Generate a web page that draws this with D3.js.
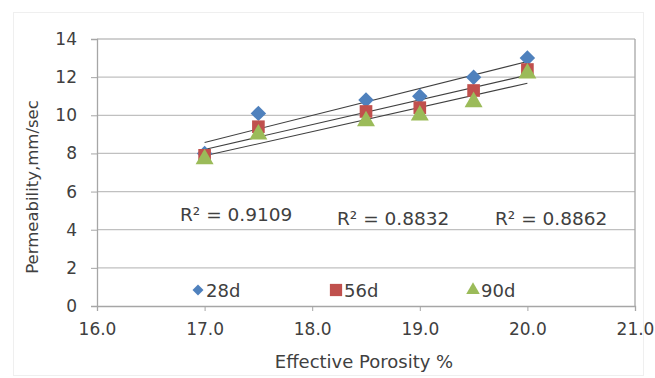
<!DOCTYPE html>
<html>
<head>
<meta charset="utf-8">
<script src="https://cdn.jsdelivr.net/npm/d3@7"></script>
<style>
  body { margin: 0; background: #fff; }
  text { font-family: "DejaVu Sans", Arial, sans-serif; fill: #404040; }
</style>
</head>
<body>
<div id="chart"></div>
<script>
// Data
const porosity = [17.0, 17.5, 18.5, 19.0, 19.5, 20.0];
const perm28 = [8.0, 10.1, 10.8, 11.0, 12.0, 13.0];
const perm56 = [7.9, 9.4, 10.2, 10.4, 11.3, 12.4];
const perm90 = [7.7, 9.0, 9.7, 10.0, 10.7, 12.2];
const seriesNames = ['28d', '56d', '90d'];
const r2Labels = ['R² = 0.9109', 'R² = 0.8832', 'R² = 0.8862'];
const xTicks = [16, 17, 18, 19, 20, 21];
const yTicks = [0, 2, 4, 6, 8, 10, 12, 14];

const W = 655, H = 378;
const margin = { top: 39, right: 20, bottom: 72, left: 97 };
const width = W - margin.left - margin.right;
const height = H - margin.top - margin.bottom;

const svg = d3.select('#chart').append('svg')
  .attr('width', W).attr('height', H);

// faint chart-area frame
svg.append('rect')
  .attr('x', 13.5).attr('y', 12.5).attr('width', 630).attr('height', 363)
  .attr('fill', '#fff').attr('stroke', '#efefef');

const g = svg.append('g').attr('transform', `translate(${margin.left},${margin.top})`);

const x = d3.scaleLinear().domain([16, 21]).range([0, width]);
const y = d3.scaleLinear().domain([0, 14]).range([height, 0]);

// gridlines
g.selectAll('.grid').data(yTicks.slice(1)).enter().append('line')
  .attr('x1', 0).attr('x2', width)
  .attr('y1', d => y(d)).attr('y2', d => y(d))
  .attr('stroke', '#c0c0c0').attr('stroke-width', 1.3);

// right border of the plot area
g.append('line')
  .attr('x1', width).attr('x2', width).attr('y1', 0).attr('y2', height)
  .attr('stroke', '#a6a6a6').attr('stroke-width', 1.3);

// axes
const xAxis = g.append('g').attr('transform', `translate(0,${height})`)
  .call(d3.axisBottom(x).tickValues(xTicks).tickFormat(d3.format('.1f')).tickSize(5).tickPadding(12));
const yAxis = g.append('g')
  .call(d3.axisLeft(y).tickValues(yTicks).tickSize(6).tickPadding(14));
[xAxis, yAxis].forEach(a => {
  a.select('.domain').attr('stroke', '#a6a6a6').attr('stroke-width', 1.3);
  a.selectAll('line').attr('stroke', '#a6a6a6');
  a.selectAll('text').style('font-size', '17px').attr('fill', '#404040')
    .style('font-family', '"DejaVu Sans", Arial, sans-serif');
});

// diamond drawn as a square turned 45 degrees
const diamond = {
  draw(ctx, size) {
    const r = Math.sqrt(size / 2);
    ctx.moveTo(0, -r); ctx.lineTo(r, 0); ctx.lineTo(0, r); ctx.lineTo(-r, 0); ctx.closePath();
  }
};

const series = [
  { name: seriesNames[0], values: perm28, color: '#4F81BD', shape: diamond, size: 120, lsize: 60 },
  { name: seriesNames[1], values: perm56, color: '#C0504D', shape: d3.symbolSquare, size: 160, lsize: 150 },
  { name: seriesNames[2], values: perm90, color: '#9BBB59', shape: d3.symbolTriangle, size: 140, lsize: 80 }
];

// linear trendlines
series.forEach(s => {
  const mx = d3.mean(porosity), my = d3.mean(s.values);
  const sxy = d3.sum(porosity, (p, i) => (p - mx) * (s.values[i] - my));
  const sxx = d3.sum(porosity, p => (p - mx) ** 2);
  const b = sxy / sxx, a = my - b * mx;
  const x0 = d3.min(porosity), x1 = d3.max(porosity);
  g.append('line')
    .attr('x1', x(x0)).attr('y1', y(a + b * x0))
    .attr('x2', x(x1)).attr('y2', y(a + b * x1))
    .attr('stroke', '#404040').attr('stroke-width', 1.1);
});

// markers
series.forEach(s => {
  g.selectAll(null).data(s.values).enter().append('path')
    .attr('d', d3.symbol().type(s.shape).size(s.size))
    .attr('transform', (d, i) => `translate(${x(porosity[i])},${y(d)})`)
    .attr('fill', s.color);
});

// R² labels
const r2Pos = [[180, 221], [337, 225], [495, 225]];
r2Labels.forEach((t, i) => {
  svg.append('text').attr('x', r2Pos[i][0]).attr('y', r2Pos[i][1])
    .style('font-size', '18.5px').text(t);
});

// legend
const legendX = [198, 336, 473];
series.forEach((s, i) => {
  const lg = svg.append('g').attr('transform', `translate(${legendX[i]},290)`);
  lg.append('path')
    .attr('d', d3.symbol().type(s.shape).size(s.lsize))
    .attr('fill', s.color);
  lg.append('text').attr('x', 8).attr('y', 6.5)
    .style('font-size', '18px').text(s.name);
});

// axis titles
svg.append('text')
  .attr('x', 364).attr('y', 368)
  .attr('text-anchor', 'middle').style('font-size', '18px')
  .text('Effective Porosity %');
svg.append('text')
  .attr('transform', `translate(38,187) rotate(-90)`)
  .attr('text-anchor', 'middle').style('font-size', '16.5px')
  .text('Permeability,mm/sec');
</script>
</body>
</html>
